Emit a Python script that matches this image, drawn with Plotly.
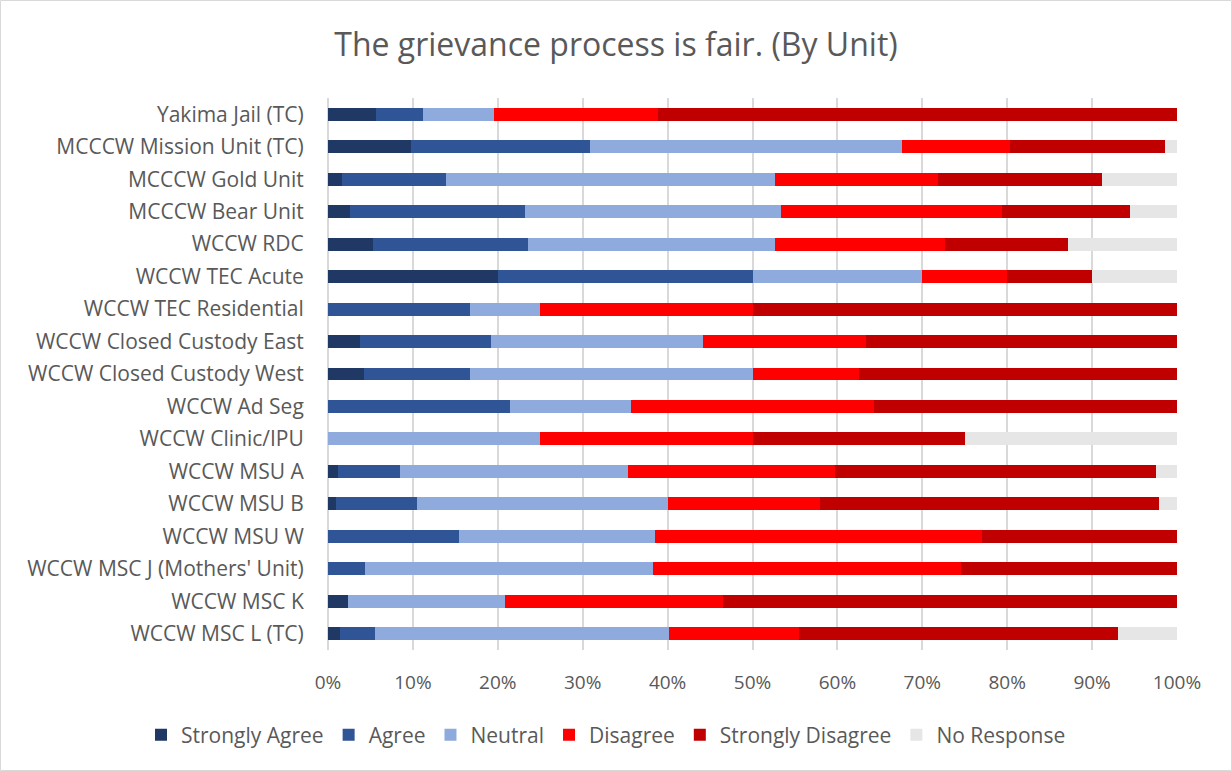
import plotly.graph_objects as go

units = [
    "Yakima Jail (TC)", "MCCCW Mission Unit (TC)", "MCCCW Gold Unit", "MCCCW Bear Unit",
    "WCCW RDC", "WCCW TEC Acute", "WCCW TEC Residential", "WCCW Closed Custody East",
    "WCCW Closed Custody West", "WCCW Ad Seg", "WCCW Clinic/IPU", "WCCW MSU A",
    "WCCW MSU B", "WCCW MSU W", "WCCW MSC J (Mothers' Unit)", "WCCW MSC K", "WCCW MSC L (TC)",
]

strongly_agree    = [5.6, 9.8, 1.7, 2.6, 5.3, 20.0, 0.0, 3.8, 4.2, 0.0, 0.0, 1.2, 1.0, 0.0, 0.0, 2.3, 1.4]
agree             = [5.6, 21.1, 12.2, 20.6, 18.3, 30.0, 16.7, 15.4, 12.5, 21.4, 0.0, 7.3, 9.5, 15.4, 4.3, 0.0, 4.1]
neutral           = [8.3, 36.7, 38.7, 30.2, 29.1, 20.0, 8.3, 25.0, 33.3, 14.3, 25.0, 26.8, 29.5, 23.1, 34.0, 18.6, 34.7]
disagree          = [19.4, 12.7, 19.3, 26.0, 20.0, 10.0, 25.0, 19.2, 12.5, 28.6, 25.0, 24.4, 17.9, 38.5, 36.2, 25.6, 15.3]
strongly_disagree = [61.1, 18.3, 19.3, 15.1, 14.5, 10.0, 50.0, 36.6, 37.5, 35.7, 25.0, 37.8, 40.0, 23.0, 25.5, 53.5, 37.5]
no_response       = [0.0, 1.4, 8.8, 5.5, 12.8, 10.0, 0.0, 0.0, 0.0, 0.0, 25.0, 2.5, 2.1, 0.0, 0.0, 0.0, 7.0]

series = [
    ("Strongly Agree", strongly_agree, "#203864"),
    ("Agree", agree, "#2F5597"),
    ("Neutral", neutral, "#8FAADC"),
    ("Disagree", disagree, "#FF0000"),
    ("Strongly Disagree", strongly_disagree, "#C00000"),
    ("No Response", no_response, "#E7E6E6"),
]

tick_vals = [0, 0.1, 0.2, 0.3, 0.4, 0.5, 0.6, 0.7, 0.8, 0.9, 1.0]
tick_text = ["0%", "10%", "20%", "30%", "40%", "50%", "60%", "70%", "80%", "90%", "100%"]

FONT = "Open Sans"
GRAY = "#595959"

fig = go.Figure()
for name, vals, color in series:
    fig.add_trace(go.Bar(
        name=name, y=units, x=[v / 100 for v in vals], orientation="h",
        marker=dict(color=color, line=dict(width=0)),
    ))

W, H = 1232, 771
L, R, T, B = 328, 55, 98, 121
pw, ph = W - L - R, H - T - B

def px2x(p):
    return (p - L) / pw

def px2y(p):
    return (H - B - p) / ph

fig.update_layout(
    width=W, height=H,
    barmode="stack", bargap=0.6,
    plot_bgcolor="white", paper_bgcolor="white",
    margin=dict(l=L, r=R, t=T, b=B, pad=0, autoexpand=False),
    font=dict(family=FONT, color=GRAY, size=21),
    title=dict(text="The grievance process is fair. (By Unit)", x=0.5, xanchor="center",
               y=1 - 45 / H, yanchor="middle", font=dict(size=32, color=GRAY, family=FONT)),
    xaxis=dict(range=[0, 1], tickvals=tick_vals, ticktext=tick_text,
               showgrid=True, gridcolor="#D9D9D9", gridwidth=1.5,
               zeroline=True, zerolinecolor="#D9D9D9", zerolinewidth=1.5,
               showline=False, ticks="outside", ticklen=15, tickcolor="rgba(0,0,0,0)",
               tickfont=dict(size=19, color=GRAY, family=FONT), fixedrange=True),
    yaxis=dict(categoryorder="array", categoryarray=units, autorange="reversed",
               showgrid=False, showline=False, ticks="outside", ticklen=19,
               tickcolor="rgba(0,0,0,0)",
               tickfont=dict(size=21, color=GRAY, family=FONT), fixedrange=True),
    legend=dict(orientation="h", x=px2x(141), xanchor="left", y=px2y(735), yanchor="middle",
                font=dict(size=21, color=GRAY, family=FONT), traceorder="normal",
                itemclick=False, itemdoubleclick=False),
    showlegend=True,
    shapes=[dict(type="rect", xref="paper", yref="paper",
                 x0=px2x(0.5), x1=px2x(W - 0.5), y0=px2y(H - 0.5), y1=px2y(0.5),
                 line=dict(color="#D9D9D9", width=1), fillcolor="rgba(0,0,0,0)", layer="below")],
)

fig.write_html("out.html", post_script="document.body.style.margin='0';",
               config={"displayModeBar": False})
